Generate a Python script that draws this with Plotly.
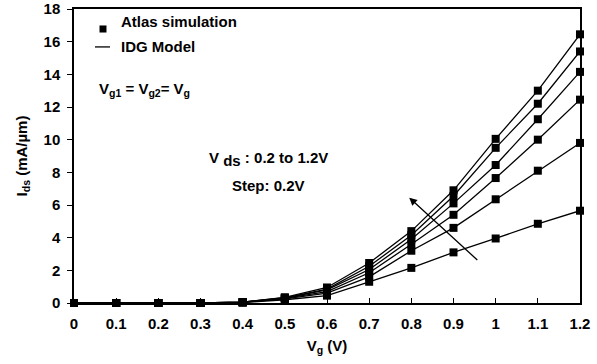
import plotly.graph_objects as go

vg = [0, 0.1, 0.2, 0.3, 0.4, 0.5, 0.6, 0.7, 0.8, 0.9, 1.0, 1.1, 1.2]
ids_02 = [0, 0, 0, 0, 0.03, 0.20, 0.45, 1.30, 2.15, 3.10, 3.95, 4.85, 5.65]
ids_04 = [0, 0, 0, 0, 0.04, 0.25, 0.60, 1.60, 3.20, 4.60, 6.35, 8.10, 9.80]
ids_06 = [0, 0, 0, 0, 0.05, 0.28, 0.70, 1.85, 3.60, 5.40, 7.65, 10.00, 12.45]
ids_08 = [0, 0, 0, 0, 0.05, 0.30, 0.80, 2.05, 3.90, 6.10, 8.45, 11.25, 14.15]
ids_10 = [0, 0, 0, 0, 0.05, 0.32, 0.85, 2.25, 4.15, 6.55, 9.50, 12.20, 15.40]
ids_12 = [0, 0, 0, 0, 0.05, 0.35, 0.95, 2.45, 4.40, 6.90, 10.05, 13.00, 16.45]
series = [ids_02, ids_04, ids_06, ids_08, ids_10, ids_12]

x_ticks = [0, 0.1, 0.2, 0.3, 0.4, 0.5, 0.6, 0.7, 0.8, 0.9, 1, 1.1, 1.2]
x_tick_labels = ["0", "0.1", "0.2", "0.3", "0.4", "0.5", "0.6", "0.7", "0.8", "0.9", "1", "1.1", "1.2"]
y_ticks = [0, 2, 4, 6, 8, 10, 12, 14, 16, 18]
legend_labels = ["Atlas simulation", "IDG Model"]

FONT = "Liberation Sans, Arial, sans-serif"
FS = 15

fig = go.Figure()
for s in series:
    fig.add_trace(go.Scatter(x=vg, y=s, mode="lines", line=dict(color="black", width=1.3),
                             showlegend=False, cliponaxis=False))
    fig.add_trace(go.Scatter(x=vg, y=s, mode="markers",
                             marker=dict(symbol="square", size=8, color="black"),
                             showlegend=False, cliponaxis=False))

fig.update_layout(
    width=597, height=364,
    margin=dict(l=74, r=17, t=9, b=61, autoexpand=False),
    paper_bgcolor="white", plot_bgcolor="white",
    font=dict(family=FONT, size=FS, color="black", weight="bold"),
    showlegend=False,
    xaxis=dict(range=[0, 1.2], tickvals=x_ticks, ticktext=x_tick_labels,
               ticks="inside", ticklen=5, tickcolor="black", showgrid=False, zeroline=False,
               showline=True, linecolor="black", linewidth=1.5, mirror=True,
               ticklabelstandoff=6,
               title=dict(text="V<sub>g</sub> (V)", font=dict(size=FS, weight="bold"), standoff=10),
               tickfont=dict(size=FS, weight="bold")),
    yaxis=dict(range=[0, 18], tickvals=y_ticks,
               ticks="outside", ticklen=5, tickcolor="black", showgrid=False, zeroline=False,
               showline=True, linecolor="black", linewidth=1.5, mirror=True,
               ticklabelstandoff=4,
               title=dict(text="I<sub>ds</sub> (mA/µm)", font=dict(size=FS, weight="bold"), standoff=12),
               tickfont=dict(size=FS, weight="bold")),
)

# manual legend
fig.add_shape(type="rect", xref="paper", yref="paper", x0=0.0504, x1=0.0642, y0=0.920, y1=0.944,
              fillcolor="black", line=dict(width=0))
fig.add_shape(type="line", xref="paper", yref="paper", x0=0.0415, x1=0.0711, y0=0.871, y1=0.871,
              line=dict(color="black", width=1.3))
fig.add_annotation(x=0.0889, y=0.959, xref="paper", yref="paper", xanchor="left", yanchor="middle",
                   text=legend_labels[0], showarrow=False, font=dict(size=FS, weight="bold"))
fig.add_annotation(x=0.0889, y=0.871, xref="paper", yref="paper", xanchor="left", yanchor="middle",
                   text=legend_labels[1], showarrow=False, font=dict(size=FS, weight="bold"))

fig.add_annotation(x=0.045, y=0.726, xref="paper", yref="paper", xanchor="left", yanchor="middle",
                   text="V<sub>g1</sub> = V<sub>g2</sub>= V<sub>g</sub>", showarrow=False,
                   font=dict(size=FS, weight="bold"))
fig.add_annotation(x=0.263, y=0.49, xref="paper", yref="paper", xanchor="left", yanchor="middle",
                   text="V <sub><span style='font-size:15px'>ds</span></sub> : 0.2 to 1.2V", showarrow=False,
                   font=dict(size=FS, weight="bold"))
fig.add_annotation(x=0.385, y=0.398, xref="paper", yref="paper", xanchor="center", yanchor="middle",
                   text="Step: 0.2V", showarrow=False, font=dict(size=FS, weight="bold"))
fig.add_annotation(x=0.795, y=6.45, ax=0.96, ay=2.55, xref="x", yref="y", axref="x", ayref="y",
                   text="", showarrow=True, arrowhead=2, arrowsize=1.2, arrowwidth=1.3,
                   arrowcolor="black")

fig.write_html("out.html")
